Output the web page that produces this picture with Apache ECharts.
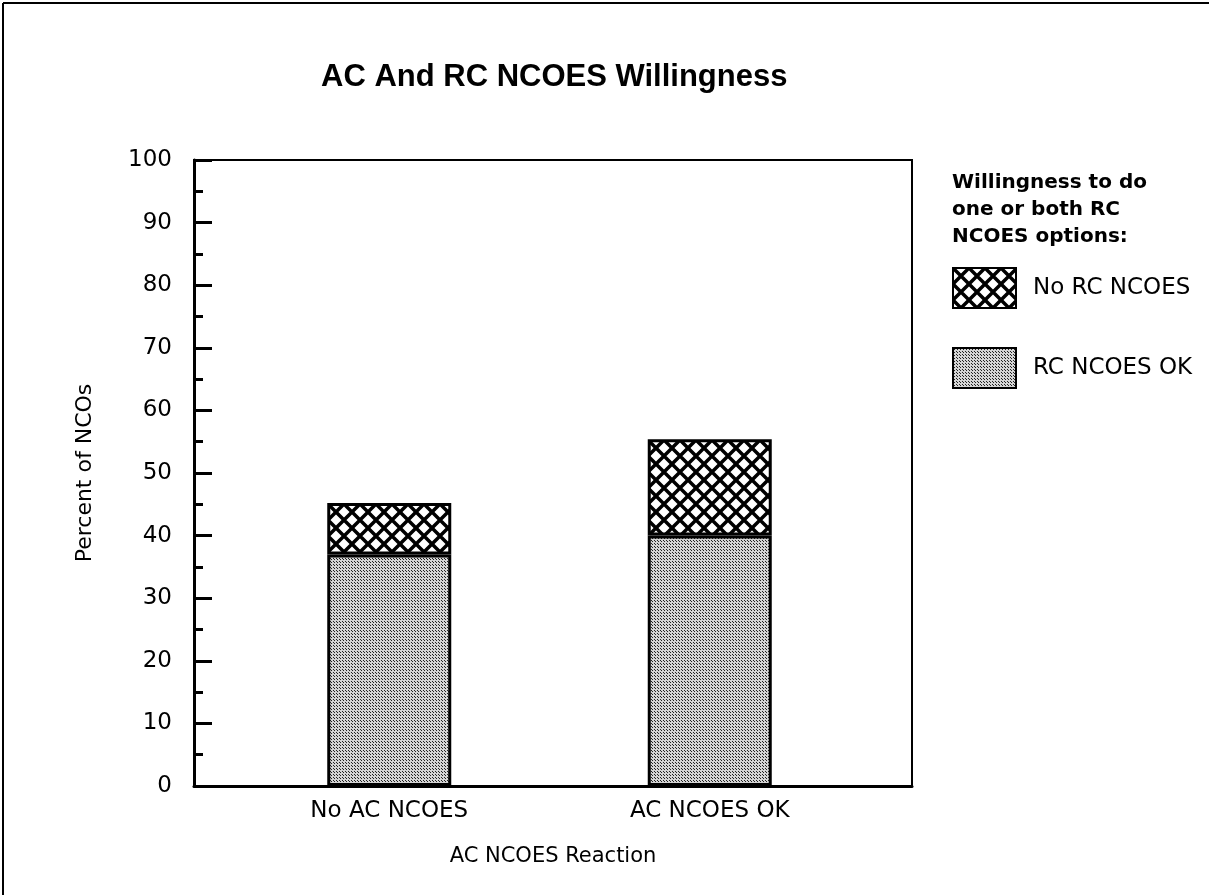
<!DOCTYPE html>
<html>
<head>
<meta charset="utf-8">
<title>AC And RC NCOES Willingness</title>
<script src="https://cdn.jsdelivr.net/npm/echarts@6/dist/echarts.min.js"></script>
<style>
  html, body { margin: 0; padding: 0; background: #fff; }
  #chart { width: 1209px; height: 895px; }
</style>
</head>
<body>
<div id="chart"></div>
<script>
// data
const categories = ['No AC NCOES', 'AC NCOES OK'];
const rcOk = [37, 40];        // RC NCOES OK (bottom, stippled)
const noRc = [8.2, 15.4];     // No RC NCOES (top, cross-hatched)

const FONT = 'DejaVu Sans, Liberation Sans, sans-serif';

// cross hatch tile
function makeHatch() {
  const c = document.createElement('canvas');
  c.width = c.height = 16;
  const g = c.getContext('2d');
  g.fillStyle = '#fff';
  g.fillRect(0, 0, 16, 16);
  g.strokeStyle = '#000';
  g.lineWidth = 3.5;
  g.beginPath();
  g.moveTo(-2, -2); g.lineTo(18, 18);
  g.moveTo(-2, 18); g.lineTo(18, -2);
  g.stroke();
  return c;
}

// fine stipple tile
function makeStipple() {
  const c = document.createElement('canvas');
  c.width = c.height = 3;
  const g = c.getContext('2d');
  g.fillStyle = '#d4d4d4';
  g.fillRect(0, 0, 3, 3);
  g.fillStyle = '#222';
  g.fillRect(0, 0, 1, 1);
  g.fillRect(1, 1, 1, 1);
  return c;
}

const hatch = { image: makeHatch(), repeat: 'repeat' };
const stipple = { image: makeStipple(), repeat: 'repeat' };

const chart = echarts.init(document.getElementById('chart'), null, { renderer: 'canvas' });

chart.setOption({
  backgroundColor: '#fff',
  animation: false,
  title: [{
    text: 'AC And RC NCOES Willingness',
    left: 316,
    top: 57,
    textStyle: { fontFamily: 'Liberation Sans, Arial, sans-serif', fontSize: 31, fontWeight: 'bold', color: '#000' }
  }, {
    text: 'Willingness to do\none or both RC\nNCOES options:',
    left: 947,
    top: 164,
    textStyle: { fontFamily: FONT, fontSize: 20, fontWeight: 'bold', color: '#000', lineHeight: 27 }
  }],
  legend: {
    orient: 'vertical',
    left: 947,
    top: 262,
    itemWidth: 63,
    itemHeight: 40,
    itemGap: 38,
    icon: 'rect',
    data: ['No RC NCOES', 'RC NCOES OK'],
    itemStyle: { borderColor: '#000', borderWidth: 2 },
    textStyle: { fontFamily: FONT, fontSize: 23, color: '#000', padding: [0, 0, 0, 12] }
  },
  graphic: [
    { type: 'line', shape: { x1: 3, y1: 3, x2: 1209, y2: 3 }, style: { stroke: '#000', lineWidth: 2 } },
    { type: 'line', shape: { x1: 3, y1: 3, x2: 3, y2: 895 }, style: { stroke: '#000', lineWidth: 2 } }
  ],
  grid: [
    // frame + y axis
    { left: 194, right: 297, top: 160, bottom: 109, show: true, borderColor: '#000', borderWidth: 2 },
    // bars
    { left: 229, width: 641, top: 160, bottom: 109 }
  ],
  xAxis: [{
    gridIndex: 0,
    type: 'value',
    min: 0,
    max: 1,
    name: 'AC NCOES Reaction',
    nameLocation: 'middle',
    nameGap: 60,
    nameTextStyle: { fontFamily: FONT, fontSize: 21, color: '#000' },
    axisLine: { show: true, lineStyle: { color: '#000', width: 3 } },
    axisTick: { show: false },
    axisLabel: { show: false },
    splitLine: { show: false }
  }, {
    gridIndex: 1,
    type: 'category',
    data: categories,
    axisLine: { show: false },
    axisTick: { show: false },
    axisLabel: { margin: 14, fontFamily: FONT, fontSize: 23, color: '#000' }
  }],
  yAxis: [{
    gridIndex: 0,
    type: 'value',
    min: 0,
    max: 100,
    interval: 10,
    name: 'Percent of NCOs',
    nameLocation: 'middle',
    nameGap: 98,
    nameTextStyle: { fontFamily: FONT, fontSize: 22, color: '#000' },
    axisLine: { show: true, lineStyle: { color: '#000', width: 3 } },
    axisTick: { show: true, inside: true, length: 18, lineStyle: { color: '#000', width: 3 } },
    minorTick: { show: true, splitNumber: 2, length: 9, lineStyle: { color: '#000', width: 3 } },
    splitLine: { show: false },
    axisLabel: { margin: 22, fontFamily: FONT, fontSize: 23, color: '#000' }
  }, {
    gridIndex: 1,
    type: 'value',
    min: 0,
    max: 100,
    show: false
  }],
  series: [{
    name: 'RC NCOES OK',
    type: 'bar',
    stack: 'total',
    xAxisIndex: 1,
    yAxisIndex: 1,
    barWidth: 124,
    data: rcOk,
    itemStyle: { color: stipple, borderColor: '#000', borderWidth: 3 }
  }, {
    name: 'No RC NCOES',
    type: 'bar',
    stack: 'total',
    xAxisIndex: 1,
    yAxisIndex: 1,
    barWidth: 124,
    data: noRc,
    itemStyle: { color: hatch, borderColor: '#000', borderWidth: 3 }
  }]
});
</script>
</body>
</html>
